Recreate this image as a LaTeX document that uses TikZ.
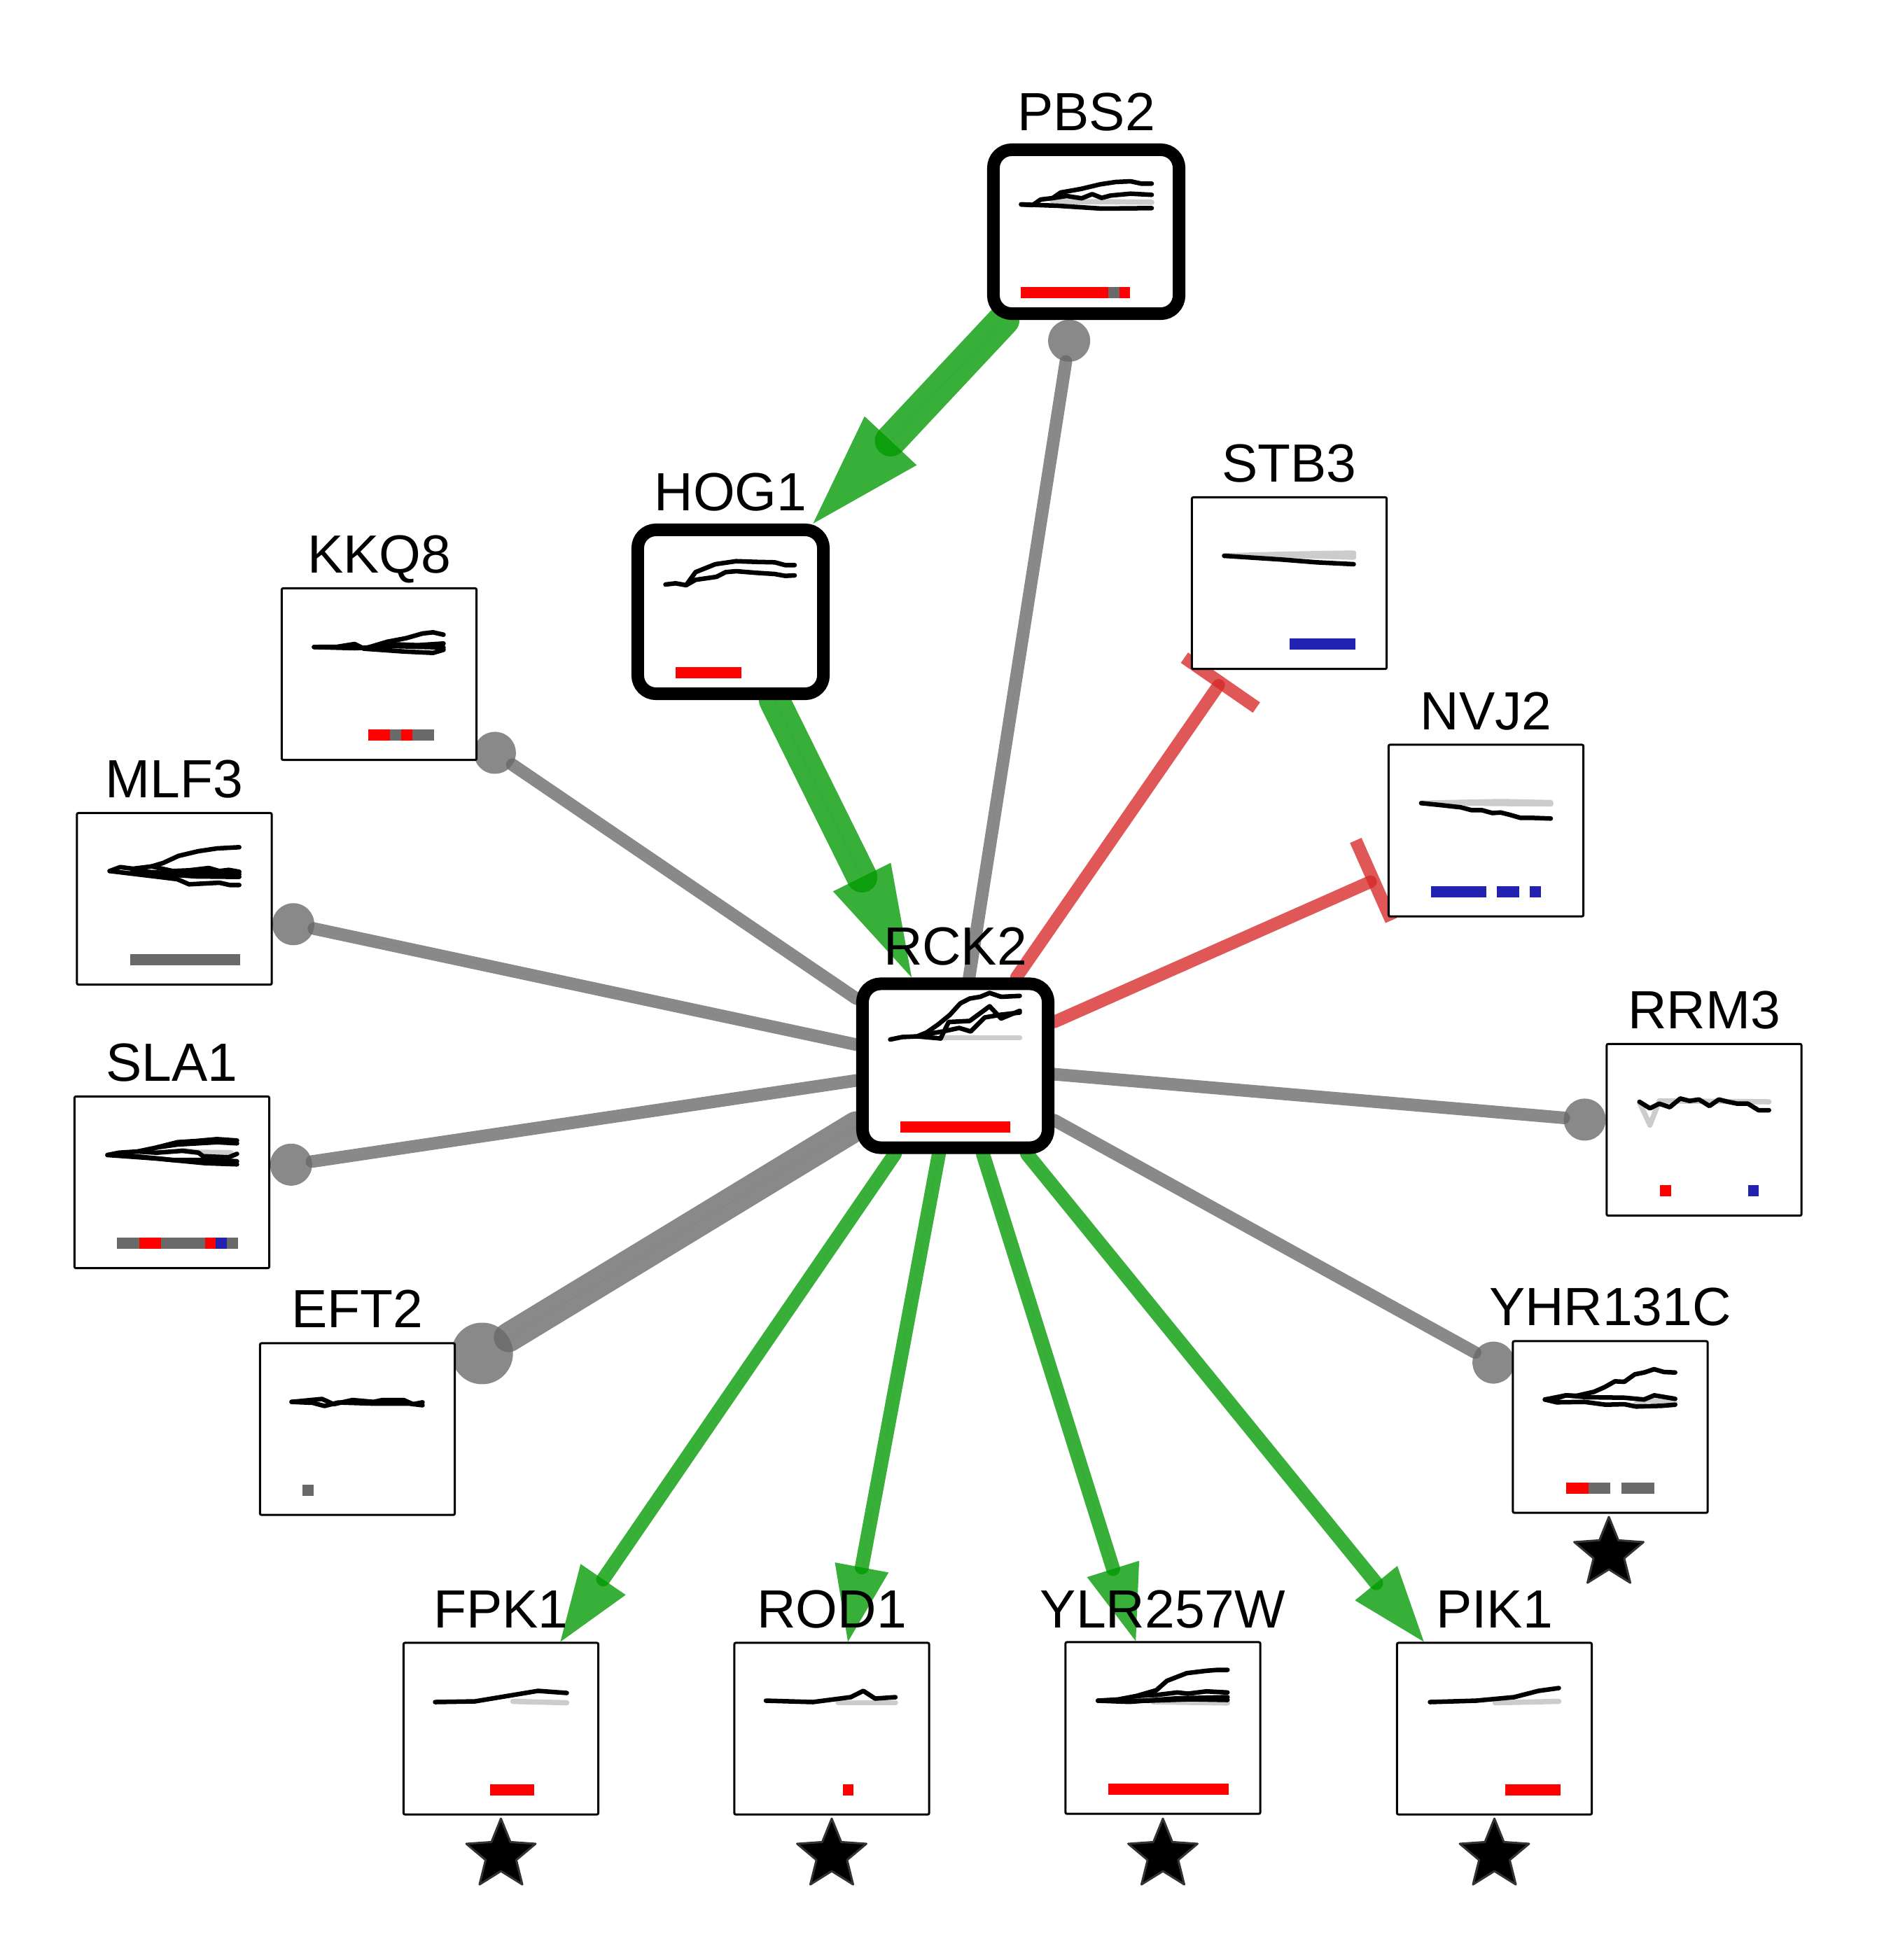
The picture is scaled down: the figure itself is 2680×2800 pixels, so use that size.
\documentclass[tikz,border=0pt]{standalone}
\usepackage{fontspec}
\setmainfont{Liberation Sans}
\usetikzlibrary{arrows.meta}
\pgfdeclarelayer{edges}
\pgfsetlayers{edges,main}
\definecolor{eg}{RGB}{0,153,0}
\definecolor{er}{RGB}{215,40,40}
\definecolor{ey}{RGB}{104,104,104}
\definecolor{bgray}{RGB}{105,105,105}
\definecolor{bblue}{RGB}{34,34,176}
\definecolor{bred}{RGB}{255,0,0}
\definecolor{cgray}{RGB}{204,204,204}
\newcommand\seg[3]{\fill[#1] ({-94+15.67*#2},79) rectangle ({-94+15.67*(#3+1)},95);}
\newcommand\mystar[1]{\fill[black,draw=black!80,line width=0.03cm,line join=round] (#1) +(-90:52) -- +(-54:23) -- +(-18:52) -- +(18:23) -- +(54:52) -- +(90:23) -- +(126:52) -- +(162:23) -- +(198:52) -- +(234:23) -- cycle;}
\begin{document}
\begin{tikzpicture}[x=0.01cm,y=-0.01cm,
  thinbox/.style={draw=black, line width=0.03cm, fill=white, minimum width=2.78cm, minimum height=2.45cm, rounded corners=0.02cm, inner sep=0pt},
  thickbox/.style={draw=black, line width=0.18cm, fill=white, minimum width=2.65cm, minimum height=2.34cm, rounded corners=0.26cm, inner sep=0pt},
  lab/.style={anchor=base, inner sep=0pt, font=\fontsize{21.85pt}{26pt}\selectfont},
  blk/.style={draw=black, line width=0.065cm, line cap=round, line join=round},
  gry/.style={draw=cgray, line width=0.075cm, line cap=round, line join=round},
  gedge/.style={draw=eg, fill=eg, opacity=0.78, line cap=round},
  redge/.style={draw=er, opacity=0.78, line cap=round},
  yedge/.style={draw=ey, fill=ey, opacity=0.78, line cap=round}]
\useasboundingbox (0,0) rectangle (2680,2800);

% nodes
\node[thickbox] (pbs2) at (1551.5,331) {};
\node[thickbox] (hog1) at (1043.5,874) {};
\node[thickbox] (rck2) at (1364.5,1522.5) {};
\node[thinbox] (kkq8) at (541.5,963) {};
\node[thinbox] (mlf3) at (249,1284) {};
\node[thinbox] (sla1) at (245.5,1689) {};
\node[thinbox] (eft2) at (510.5,2041.5) {};
\node[thinbox] (stb3) at (1841.5,833) {};
\node[thinbox] (nvj2) at (2122.5,1186.5) {};
\node[thinbox] (rrm3) at (2434,1614) {};
\node[thinbox] (yhr) at (2300,2038.5) {};
\node[thinbox] (fpk1) at (715.5,2469.5) {};
\node[thinbox] (rod1) at (1188,2469.5) {};
\node[thinbox] (ylr) at (1661,2468.5) {};
\node[thinbox] (pik1) at (2134.5,2469.5) {};

% labels
\node[lab] (pbs2l) at (1551.5,187) {PBS2};
\node[lab] (hog1l) at (1043.5,729) {HOG1};
\node[lab] (rck2l) at (1364.5,1378) {RCK2};
\node[lab] (kkq8l) at (541.5,818) {KKQ8};
\node[lab] (mlf3l) at (249,1139) {MLF3};
\node[lab] (sla1l) at (245.5,1544) {SLA1};
\node[lab] (eft2l) at (510.5,1896) {EFT2};
\node[lab] (stb3l) at (1841.5,688) {STB3};
\node[lab] (nvj2l) at (2122.5,1042) {NVJ2};
\node[lab] (rrm3l) at (2434,1469) {RRM3};
\node[lab] (yhrl) at (2300,1893) {YHR131C};
\node[lab] (fpk1l) at (715.5,2325) {FPK1};
\node[lab] (rod1l) at (1188,2325) {ROD1};
\node[lab] (ylrl) at (1661,2325) {YLR257W};
\node[lab] (pik1l) at (2134.5,2325) {PIK1};

% stars
\mystar{2298,2219}
\mystar{715.5,2650}
\mystar{1188,2650}
\mystar{1661,2650}
\mystar{2134.5,2650}

% edges
\begin{pgfonlayer}{edges}
\draw[gedge, line width=0.45cm, -{Triangle[length=1.62cm, width=1.02cm, line width=0pt]}] (pbs2) -- (hog1);
\draw[gedge, line width=0.44cm, -{Triangle[length=1.6cm, width=0.92cm, line width=0pt]}] (hog1) -- (rck2);
\draw[yedge, line width=0.18cm, -{Circle[length=0.6cm, line width=0pt]}] (rck2) -- (pbs2);
\draw[yedge, line width=0.18cm, -{Circle[length=0.6cm, line width=0pt]}] (rck2) -- (kkq8);
\draw[yedge, line width=0.18cm, -{Circle[length=0.6cm, line width=0pt]}] (rck2) -- (mlf3);
\draw[yedge, line width=0.18cm, -{Circle[length=0.6cm, line width=0pt]}] (rck2) -- (sla1);
\draw[yedge, line width=0.42cm, -{Circle[length=0.88cm, line width=0pt]}] (rck2) -- (eft2);
\draw[yedge, line width=0.18cm, -{Circle[length=0.6cm, line width=0pt]}] (rck2) -- (rrm3);
\draw[yedge, line width=0.18cm, -{Circle[length=0.6cm, line width=0pt]}] (rck2) -- (yhr);
\draw[redge, line width=0.18cm, shorten >=0.13cm, -{Bar[width=1.25cm, line width=0.18cm]}] (rck2) -- (stb3);
\draw[redge, line width=0.18cm, shorten >=0.13cm, -{Bar[width=1.25cm, line width=0.18cm]}] (rck2) -- (nvj2);
\draw[gedge, line width=0.2cm, -{Triangle[length=1.08cm, width=0.78cm, line width=0pt]}] (rck2) -- (fpk1);
\draw[gedge, line width=0.2cm, -{Triangle[length=1.08cm, width=0.78cm, line width=0pt]}] (rck2) -- (rod1);
\draw[gedge, line width=0.2cm, -{Triangle[length=1.08cm, width=0.78cm, line width=0pt]}] (rck2) -- (ylr);
\draw[gedge, line width=0.2cm, -{Triangle[length=1.08cm, width=0.78cm, line width=0pt]}] (rck2) -- (pik1);
\end{pgfonlayer}

% charts
\begin{scope}[shift={(pbs2)}]
\draw[gry] (-48,-42.7) -- (20,-43) -- (93.5,-42);
\draw[blk] (-93,-39) -- (-76.5,-38) -- (-65,-46) -- (-48,-48) -- (-36.5,-56) -- (-8,-61) -- (20,-67.7) -- (42,-71) -- (63.5,-72) -- (78.5,-68.7) -- (93.5,-68.7);
\draw[blk] (-48,-48) -- (-28,-51) -- (-6.5,-47.7) -- (8.5,-53.7) -- (22,-48.3) -- (35,-51.7) -- (63.5,-54.3) -- (93.5,-52.7);
\draw[blk] (-93,-39) -- (-40,-37) -- (22,-33) -- (93.5,-33.7);
\seg{bred}{0}{7}\seg{bgray}{8}{8}\seg{bred}{9}{9}
\end{scope}
\begin{scope}[shift={(hog1)}]
\draw[blk] (-93,-39) -- (-78.5,-40.7) -- (-63.5,-38) -- (-50,-56.7) -- (-21.8,-68) -- (8,-72.3) -- (36.5,-71.3) -- (63,-70.7) -- (78,-66.7) -- (91.5,-66.7);
\draw[blk] (-63.5,-38) -- (-50,-45.7) -- (-20,-50) -- (-7,-56.7) -- (8,-58) -- (36.5,-55.7) -- (63,-54) -- (78,-51.3) -- (91.5,-52);
\seg{bred}{1}{6}
\end{scope}
\begin{scope}[shift={(rck2)}]
\draw[gry] (-21,-40) -- (92,-40);
\draw[blk] (-93,-37.5) -- (-76,-41) -- (-54.5,-42) -- (-21,-39);
\draw[blk] (-54.5,-42) -- (-41,-47.5) -- (-24.5,-59) -- (-8,-72.5) -- (7,-89) -- (20.5,-96) -- (35.5,-98.5) -- (49,-104) -- (65.5,-98.5) -- (92,-99.8);
\draw[blk] (-21,-39) -- (-9.5,-62.5) -- (20.5,-64) -- (49,-85) -- (65.5,-67.5) -- (92,-78.5);
\draw[blk] (-48,-44) -- (-18,-49) -- (5.5,-54) -- (22,-49) -- (42,-69) -- (65.5,-73) -- (92,-76);
\seg{bred}{1}{10}
\end{scope}
\begin{scope}[shift={(kkq8)}]
\draw[blk] (-93,-38.7) -- (-60,-39) -- (-35,-43) -- (-21.5,-36.3) -- (12,-46.3) -- (38.5,-51.3) -- (62,-58) -- (77,-59.7) -- (92,-56.3);
\draw[blk] (-21.5,-36.3) -- (12,-43) -- (55,-41.3) -- (92,-43.7);
\draw[blk] (-21.5,-36.3) -- (35,-32.3) -- (77,-30.3) -- (92,-34.7);
\draw[blk] (-93,-38.7) -- (-35,-37) -- (20,-40) -- (92,-38);
\seg{bred}{5}{6}\seg{bgray}{7}{7}\seg{bred}{8}{8}\seg{bgray}{9}{10}
\end{scope}
\begin{scope}[shift={(mlf3)}]
\draw[blk] (-92.3,-39.7) -- (-77.3,-45.3) -- (-59,-43) -- (-32.3,-46.3) -- (-15.7,-51.3) -- (6,-61.3) -- (34.3,-68) -- (61,-72) -- (92.7,-73.7);
\draw[blk] (-32.3,-46.3) -- (-2.3,-39.7) -- (21,-40.7) -- (49.3,-44) -- (64.3,-39.7) -- (77.7,-41.3) -- (92.7,-38.7);
\draw[blk] (-92.3,-39.7) -- (-22.3,-31.3) -- (4.3,-28) -- (21,-20.7) -- (64.3,-23) -- (79.3,-19.7) -- (92.7,-19.7);
\draw[blk] (-22.3,-31.3) -- (-9,-34.7) -- (31,-32) -- (92.7,-31.3);
\draw[blk] (-60,-40) -- (0,-36) -- (50,-38) -- (92.7,-35);
\seg{bgray}{2}{11}
\end{scope}
\begin{scope}[shift={(sla1)}]
\draw[gry] (15,-45.7) -- (38,-43) -- (84.5,-42.3);
\draw[blk] (-92,-39) -- (-75.5,-42.3) -- (-49,-44) -- (-22,-49.7) -- (8,-57.3) -- (34.5,-59) -- (64.5,-61.7) -- (93,-59.7);
\draw[blk] (-22,-49.7) -- (8,-54) -- (64.5,-57.3) -- (93,-55.7);
\draw[blk] (-49,-44) -- (-22,-42.3) -- (15,-45) -- (38,-42.3) -- (44.5,-37.3) -- (81,-35.7) -- (93,-40.7);
\draw[blk] (-92,-39) -- (-22,-34) -- (48,-27.3) -- (93,-25.7);
\draw[blk] (-60,-38) -- (0,-32) -- (60,-32) -- (93,-30);
\seg{bgray}{1}{2}\seg{bred}{3}{4}\seg{bgray}{5}{8}\seg{bred}{9}{9}\seg{bblue}{10}{10}\seg{bgray}{11}{11}
\end{scope}
\begin{scope}[shift={(eft2)}]
\draw[blk] (-94,-38.8) -- (-50.5,-43) -- (-34,-35.5) -- (-7,-41.5) -- (23,-38.8) -- (36,-41.5) -- (66,-41.5) -- (79.5,-35.5) -- (93,-38.2);
\draw[blk] (-94,-38.8) -- (-64,-37.5) -- (-47,-33) -- (-27,-38) -- (19.5,-36.5) -- (73,-36.5) -- (93,-34);
\seg{bgray}{1}{1}
\end{scope}
\begin{scope}[shift={(stb3)}]
\draw[gry] (-93,-39) -- (-11.5,-41.3) -- (92,-43);
\draw[gry] (-11.5,-40) -- (92,-37);
\draw[gry] (-11.5,-40.5) -- (92,-40);
\draw[blk] (-93,-39) -- (-11.5,-33.7) -- (38.5,-29.7) -- (92,-27);
\seg{bblue}{6}{11}
\end{scope}
\begin{scope}[shift={(nvj2)}]
\draw[gry] (-92.5,-39.2) -- (20.8,-41.5) -- (92.5,-40);
\draw[gry] (-30,-39) -- (92.5,-38);
\draw[blk] (-92.5,-39.2) -- (-66,-36.5) -- (-36,-33.2) -- (-21,-29.2) -- (-6,-29.2) -- (9,-25) -- (20.8,-25.8) -- (34,-22.5) -- (49,-18.2) -- (64,-18.2) -- (92.5,-17.2);
\seg{bblue}{1}{5}\seg{bblue}{7}{8}\seg{bblue}{10}{10}
\end{scope}
\begin{scope}[shift={(rrm3)}]
\draw[gry] (-92.3,-39) -- (-77.3,-6.7) -- (-64,-41.3) -- (92.7,-40);
\draw[blk] (-92.3,-40) -- (-77.3,-30.7) -- (-64,-37.3) -- (-49,-32.3) -- (-34,-44.7) -- (-20.7,-41.3) -- (-7.3,-43.3) -- (7.7,-34) -- (21,-43.3) -- (34.3,-40) -- (47.7,-37.3) -- (62.7,-37.3) -- (77.7,-28) -- (92.7,-28);
\seg{bred}{2}{2}\seg{bblue}{10}{10}
\end{scope}
\begin{scope}[shift={(yhr)}]
\draw[gry] (36.7,-33) -- (53.3,-38.5) -- (92.7,-34);
\draw[blk] (-93.3,-39.2) -- (-78.3,-40.2) -- (-63.3,-45.2) -- (-48.3,-44.5) -- (-23.3,-50.2) -- (-8.3,-56.8) -- (6.7,-65.2) -- (20,-64.5) -- (35,-75.2) -- (48.3,-77.8) -- (62.7,-82.5) -- (76.7,-78.5) -- (92.7,-77.8);
\draw[blk] (-93.3,-39.2) -- (-63.3,-45.2) -- (-33.3,-42.5) -- (20,-41.8) -- (48.3,-39.2) -- (62.7,-45.2) -- (92.7,-40.2);
\draw[blk] (-93.3,-39.2) -- (-76.7,-35.2) -- (-36.7,-35.8) -- (-6.7,-31.8) -- (20,-32.5) -- (36.7,-29.2) -- (73.3,-30.2) -- (92.7,-31.8);
\seg{bred}{2}{3}\seg{bgray}{4}{5}\seg{bgray}{7}{9}
\end{scope}
\begin{scope}[shift={(ylr)}]
\draw[gry] (-14.3,-37.3) -- (92.3,-35.7);
\draw[blk] (-92.7,-39) -- (-64.3,-40.7) -- (-37.7,-45.7) -- (-9.3,-54) -- (5.7,-67.3) -- (34,-78.3) -- (62.3,-81.7) -- (79,-83) -- (92.3,-83);
\draw[blk] (-37.7,-45.7) -- (-7.7,-47.3) -- (20.7,-50.7) -- (35.7,-49) -- (62.3,-52.3) -- (92.3,-50.7);
\draw[blk] (-92.7,-39) -- (-47.7,-37.3) -- (19,-42.3) -- (92.3,-44);
\draw[blk] (-92.7,-39) -- (-20,-39) -- (40,-41) -- (92.3,-40);
\seg{bred}{1}{11}
\end{scope}
\begin{scope}[shift={(fpk1)}]
\draw[gry] (17,-39) -- (94,-37);
\draw[blk] (-94,-38) -- (-37,-39) -- (17,-48) -- (53,-54) -- (94,-51);
\seg{bred}{5}{8}
\end{scope}
\begin{scope}[shift={(rod1)}]
\draw[gry] (9,-37) -- (91,-37);
\draw[blk] (-94,-40) -- (-27,-38) -- (27,-45) -- (45,-54) -- (62,-43) -- (91,-45);
\seg{bred}{7}{7}
\end{scope}
\begin{scope}[shift={(pik1)}]
\draw[gry] (1,-37) -- (92,-39);
\draw[blk] (-92,-38) -- (-26,-40) -- (28,-45) -- (63,-54) -- (92,-58);
\seg{bred}{7}{11}
\end{scope}
\end{tikzpicture}
\end{document}
